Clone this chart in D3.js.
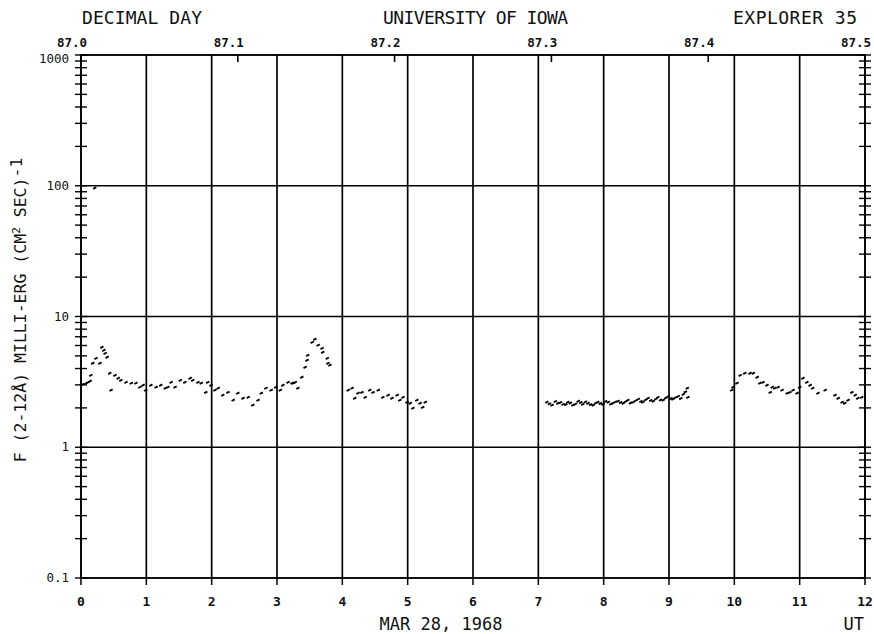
<!DOCTYPE html>
<html><head><meta charset="utf-8">
<script src="https://cdn.jsdelivr.net/npm/d3@7"></script>
<style>
body{margin:0;background:#fff;}
text{font-family:"DejaVu Sans Mono",monospace;fill:#111;}
</style></head>
<body><svg id="c" width="874" height="634"></svg>
<script>
// ---- data ----
const utTicks = [0,1,2,3,4,5,6,7,8,9,10,11,12];
const dayTicks = [87.0,87.1,87.2,87.3,87.4,87.5];
const decadeTicks = [0.1,1,10,100,1000];
const decadeLabels = ["0.1","1","10","100","1000"];

const segA_hours = [0.03,0.08,0.11,0.14,0.15,0.18,0.23,0.29,0.32,0.35,0.37,0.40,0.44,0.46,0.52,0.57,0.61,0.69,0.77,0.84,0.90,0.95,0.99,1.07,1.15,1.22,1.29,1.33,1.38,1.44,1.52,1.59,1.67,1.71,1.79,1.84,1.91,1.94,1.99,2.05,2.10,2.17,2.25,2.33,2.40,2.48,2.56,2.63,2.71,2.76,2.83,2.91,2.98,3.05,3.09,3.17,3.23,3.25,3.28,3.32,3.38,3.43,3.46,3.47,3.54,3.58,3.63,3.69,3.70,3.77,3.78,3.81];
const segA_flux = [3.03,3.09,3.14,3.20,3.55,4.39,4.79,4.39,5.82,5.52,5.23,4.88,3.68,2.73,3.55,3.37,3.25,3.14,3.09,3.09,2.88,2.98,2.73,2.98,2.88,2.98,2.83,2.88,3.14,2.88,3.25,3.14,3.37,3.25,3.14,3.09,2.63,3.14,2.98,2.73,2.83,2.50,2.63,2.29,2.59,2.37,2.41,2.10,2.29,2.59,2.83,2.73,2.88,2.73,2.98,3.14,3.09,3.09,3.14,2.83,3.43,4.09,4.63,5.05,6.35,6.70,6.03,5.71,5.33,4.79,4.39,4.24];

const segB_hours = [4.09,4.15,4.19,4.24,4.30,4.35,4.42,4.47,4.55,4.62,4.70,4.76,4.84,4.88,4.93,4.99,5.04,5.08,5.14,5.19,5.23,5.27];
const segB_flux = [2.73,2.83,2.37,2.59,2.63,2.41,2.73,2.63,2.73,2.41,2.50,2.37,2.50,2.29,2.41,2.21,2.17,1.99,2.29,2.17,2.02,2.21];

const segC_hours = [7.13,7.17,7.21,7.26,7.30,7.34,7.38,7.42,7.45,7.49,7.53,7.57,7.61,7.65,7.68,7.72,7.76,7.80,7.84,7.88,7.91,7.95,7.99,8.03,8.07,8.11,8.14,8.18,8.22,8.26,8.30,8.34,8.37,8.41,8.45,8.49,8.53,8.57,8.60,8.64,8.68,8.72,8.76,8.80,8.83,8.87,8.91,8.95,8.99,9.03,9.06,9.10,9.14,9.18,9.22,9.25,9.28,9.29];
const segC_flux = [2.21,2.15,2.10,2.24,2.17,2.20,2.13,2.12,2.21,2.18,2.10,2.14,2.25,2.20,2.13,2.22,2.17,2.12,2.10,2.18,2.21,2.16,2.13,2.24,2.21,2.14,2.17,2.22,2.25,2.20,2.17,2.24,2.29,2.18,2.21,2.27,2.33,2.24,2.21,2.30,2.37,2.28,2.25,2.34,2.41,2.30,2.29,2.38,2.45,2.36,2.33,2.40,2.45,2.36,2.54,2.65,2.83,2.41];

const segD_hours = [9.96,9.98,10.04,10.09,10.16,10.24,10.29,10.35,10.39,10.44,10.50,10.55,10.58,10.62,10.67,10.73,10.81,10.85,10.90,10.96,11.00,11.05,11.11,11.16,11.20,11.28,11.39,11.54,11.59,11.65,11.69,11.74,11.80,11.85,11.89,11.95];
const segD_flux = [2.73,2.88,3.09,3.55,3.68,3.68,3.68,3.43,3.09,3.14,2.98,2.63,2.88,2.83,2.88,2.73,2.59,2.63,2.73,2.59,2.88,3.37,3.14,2.98,2.83,2.59,2.73,2.50,2.37,2.21,2.17,2.29,2.63,2.50,2.37,2.41];

const stray_hours = [0.21];
const stray_flux = [96];

// ---- drawing ----
const svg = d3.select("#c");
const L=81, R=865, T=55, B=578;
const x = d3.scaleLinear().domain([0,12]).range([L,R]);
const xd = d3.scaleLinear().domain([87.0,87.5]).range([L,R]);
const y = d3.scaleLog().domain([0.1,1000]).range([B,T]);

const g = svg.append("g");
// grid
g.selectAll(".vg").data(utTicks).join("line")
  .attr("x1",d=>x(d)).attr("x2",d=>x(d)).attr("y1",T).attr("y2",B)
  .attr("stroke","#000").attr("stroke-width",1.7);
g.selectAll(".hg").data(decadeTicks).join("line")
  .attr("x1",L).attr("x2",R).attr("y1",d=>y(d)).attr("y2",d=>y(d))
  .attr("stroke","#000").attr("stroke-width",1.5);
// frame
g.append("rect").attr("x",L).attr("y",T).attr("width",R-L).attr("height",B-T)
  .attr("fill","none").attr("stroke","#000").attr("stroke-width",1.5);

// minor log ticks (crossing) on left and right
const minor = [];
for (let e=-1;e<3;e++) for (let m=1;m<=9;m++) minor.push(m*Math.pow(10,e));
minor.push(1000);
[L,R].forEach(ax=>{
  g.selectAll(null).data(minor).join("line")
    .attr("x1",ax-6).attr("x2",ax+6).attr("y1",d=>y(d)).attr("y2",d=>y(d))
    .attr("stroke","#000").attr("stroke-width",1.4);
});
// bottom ticks
g.selectAll(null).data(utTicks).join("line")
  .attr("x1",d=>x(d)).attr("x2",d=>x(d)).attr("y1",B).attr("y2",B+7)
  .attr("stroke","#000").attr("stroke-width",1.5);
// top ticks (decimal day)
g.selectAll(null).data(dayTicks).join("line")
  .attr("x1",d=>xd(d)).attr("x2",d=>xd(d)).attr("y1",T).attr("y2",T+7)
  .attr("stroke","#000").attr("stroke-width",1.6);

// labels
g.selectAll(null).data(utTicks).join("text")
  .attr("x",d=>x(d)).attr("y",606).attr("text-anchor","middle")
  .attr("font-size",13).attr("font-weight","bold").text(d=>d);
g.selectAll(null).data(dayTicks).join("text")
  .attr("x",d=>xd(d)+6).attr("y",47).attr("text-anchor","end")
  .attr("font-size",12.5).attr("font-weight","bold").text(d=>d.toFixed(1));
g.selectAll(null).data(decadeTicks).join("text")
  .attr("x",69).attr("y",(d,i)=>y(d)+(i===4?8:4)).attr("text-anchor","end")
  .attr("font-size",12.5).text((d,i)=>decadeLabels[i]);

// titles
g.append("text").attr("x",82).attr("y",24).attr("font-size",18).attr("textLength",120).text("DECIMAL DAY");
g.append("text").attr("x",383).attr("y",24).attr("font-size",18).attr("textLength",185).text("UNIVERSITY OF IOWA");
g.append("text").attr("x",733).attr("y",24).attr("font-size",18).attr("textLength",124).text("EXPLORER 35");
g.append("text").attr("x",441).attr("y",630).attr("text-anchor","middle").attr("font-size",17).text("MAR 28, 1968");
g.append("text").attr("x",864).attr("y",630).attr("text-anchor","end").attr("font-size",17).text("UT");

const yl = g.append("text").attr("transform","translate(26,310) rotate(-90)")
  .attr("text-anchor","middle").attr("font-size",16.5);
yl.append("tspan").text("F (2-12Å)  MILLI-ERG  (CM");
yl.append("tspan").attr("font-size",11).attr("dy",-6).text("2");
yl.append("tspan").attr("dy",6).text(" SEC)");
yl.append("tspan").attr("dy",-4).text("-1");

// data marks
function plot(hs, fs){
  const pts = hs.map((h,i)=>[h,fs[i]]);
  g.selectAll(null).data(pts).join("line")
    .attr("x1",d=>x(d[0])-1.6).attr("x2",d=>x(d[0])+1.6)
    .attr("y1",d=>y(d[1])+0.8).attr("y2",d=>y(d[1])-0.8)
    .attr("stroke","#000").attr("stroke-width",1.9);
}
plot(segA_hours,segA_flux);
plot(segB_hours,segB_flux);
plot(segC_hours,segC_flux);
plot(segD_hours,segD_flux);
plot(stray_hours,stray_flux);
</script></body></html>
